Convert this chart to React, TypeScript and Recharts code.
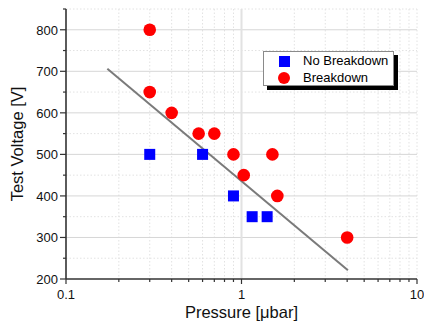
import React from "react";
import {
  ScatterChart,
  Scatter,
  XAxis,
  YAxis,
  CartesianGrid,
  Legend,
} from "recharts";

const noBreakdown = [
  { p: 0.3, v: 500 },
  { p: 0.6, v: 500 },
  { p: 0.9, v: 400 },
  { p: 1.15, v: 350 },
  { p: 1.4, v: 350 },
];

const breakdown = [
  { p: 0.3, v: 800 },
  { p: 0.3, v: 650 },
  { p: 0.4, v: 600 },
  { p: 0.57, v: 550 },
  { p: 0.7, v: 550 },
  { p: 0.9, v: 500 },
  { p: 1.03, v: 450 },
  { p: 1.5, v: 500 },
  { p: 1.6, v: 400 },
  { p: 4.0, v: 300 },
];

// linear fit drawn in log-x space
const fitLine = [
  { p: 0.172, v: 706 },
  { p: 4.04, v: 221 },
];

const xTicks = [0.1, 0.2, 0.3, 0.4, 0.5, 0.6, 0.7, 0.8, 0.9, 1, 2, 3, 4, 5, 6, 7, 8, 9, 10];
const xMajor = [0.1, 1, 10];
const xMinorGrid = [0.2, 0.3, 0.4, 0.5, 0.6, 0.7, 0.8, 0.9, 2, 3, 4, 5, 6, 7, 8, 9, 10];
const yTicks = [200, 250, 300, 350, 400, 450, 500, 550, 600, 650, 700, 750, 800, 850];
const yMajorGrid = [300, 400, 500, 600, 700, 800];
const yMinorGrid = [250, 350, 450, 550, 650, 750, 850];

const FONT = "'Liberation Sans', Arial, sans-serif";

const XTick = ({ x, y, payload }: any) => {
  const major = xMajor.includes(payload.value);
  return (
    <g>
      <line x1={x} x2={x} y1={y} y2={y + (major ? 5 : 3)} stroke="#333" strokeWidth={1.2} />
      {major && (
        <text x={x} y={y + 20} textAnchor="middle" fontSize={13} fill="#111" fontFamily={FONT}>
          {payload.value}
        </text>
      )}
    </g>
  );
};

const YTick = ({ x, y, payload }: any) => {
  const major = payload.value % 100 === 0;
  return (
    <g>
      <line x1={x - (major ? 6 : 3)} x2={x} y1={y} y2={y} stroke="#333" strokeWidth={1.2} />
      {major && (
        <text x={x - 8} y={y + 5} textAnchor="end" fontSize={13} fill="#111" fontFamily={FONT}>
          {payload.value}
        </text>
      )}
    </g>
  );
};

const Square = ({ cx, cy }: any) => (
  <rect x={cx - 5.5} y={cy - 5.5} width={11} height={11} fill="#0000ff" />
);

const Dot = ({ cx, cy }: any) => <circle cx={cx} cy={cy} r={6.3} fill="#ff0000" />;

const LegendBox = () => (
  <div style={{ position: "relative", width: 131, height: 35, fontFamily: FONT, fontSize: 13 }}>
    <div style={{ position: "absolute", left: 4, top: 4, width: 131, height: 35, background: "#000" }} />
    <div
      style={{
        position: "absolute",
        left: 0,
        top: 0,
        width: 129,
        height: 33,
        background: "#fff",
        border: "1px solid #8a8a8a",
      }}
    >
      <div style={{ position: "absolute", left: 15, top: 4, width: 11, height: 11, background: "#0000ff" }} />
      <div style={{ position: "absolute", left: 39, top: 1, lineHeight: "16px" }}>No Breakdown</div>
      <div
        style={{ position: "absolute", left: 14, top: 20, width: 12, height: 12, borderRadius: 6, background: "#ff0000" }}
      />
      <div style={{ position: "absolute", left: 39, top: 18, lineHeight: "16px" }}>Breakdown</div>
    </div>
  </div>
);

export default function App() {
  return (
    <div style={{ position: "absolute", left: 0, top: 0, width: 424, height: 324, background: "#fff" }}>
      <style>{`body{margin:0}`}</style>
      <ScatterChart width={424} height={324} margin={{ top: 9, right: 7, left: 0, bottom: 0 }}>
        <CartesianGrid
          horizontalValues={yMinorGrid}
          verticalValues={xMinorGrid}
          stroke="#e2e2e2"
          strokeDasharray="1.5 2"
        />
        <CartesianGrid horizontalValues={yMajorGrid} verticalValues={[]} vertical={false} stroke="#d6d6d6" />
        <CartesianGrid verticalValues={[1]} horizontal={false} stroke="#e2e2e2" strokeWidth={2} />
        <XAxis
          type="number"
          dataKey="p"
          scale="log"
          domain={[0.1, 10]}
          ticks={xTicks}
          interval={0}
          height={45}
          tickSize={0}
          tickMargin={0}
          tickLine={false}
          tick={<XTick />}
          axisLine={{ stroke: "#333", strokeWidth: 1.6 }}
          label={{ value: "Pressure [μbar]", position: "insideBottom", offset: 6, fontSize: 16.5, fill: "#111", fontFamily: FONT }}
          allowDataOverflow
        />
        <YAxis
          type="number"
          dataKey="v"
          domain={[200, 850]}
          ticks={yTicks}
          interval={0}
          width={66}
          tickSize={0}
          tickMargin={0}
          tickLine={false}
          tick={<YTick />}
          axisLine={{ stroke: "#333", strokeWidth: 1.6 }}
          label={{
            value: "Test Voltage [V]",
            angle: -90,
            position: "insideLeft",
            offset: 17,
            fontSize: 16.5,
            fill: "#111",
            fontFamily: FONT,
            style: { textAnchor: "middle" },
          }}
          allowDataOverflow
        />
        <Scatter
          data={fitLine}
          line={{ stroke: "#7a7a7a", strokeWidth: 2 }}
          shape={() => <g />}
          legendType="none"
          isAnimationActive={false}
        />
        <Scatter name="No Breakdown" data={noBreakdown} shape={<Square />} isAnimationActive={false} />
        <Scatter name="Breakdown" data={breakdown} shape={<Dot />} isAnimationActive={false} />
        <Legend
          layout="vertical"
          align="center"
          verticalAlign="middle"
          wrapperStyle={{ left: 263, top: 51, width: 135, height: 39 }}
          content={() => <LegendBox />}
        />
      </ScatterChart>
    </div>
  );
}
